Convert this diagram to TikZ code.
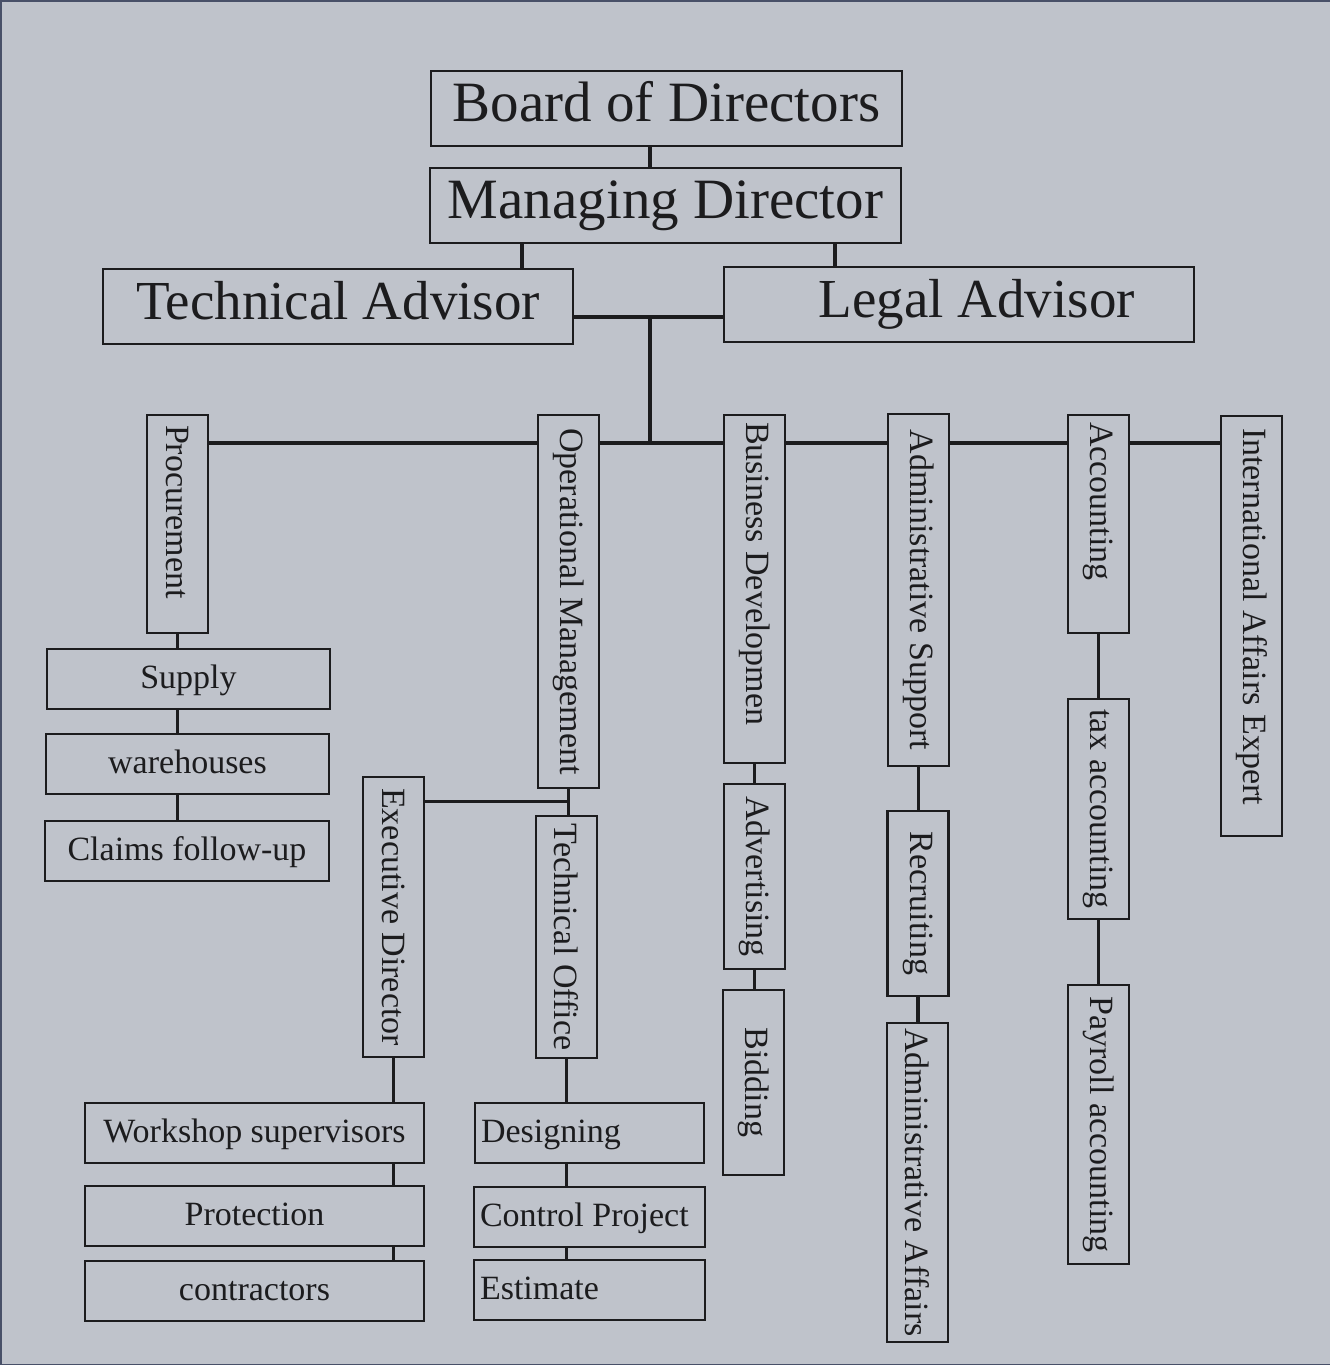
\documentclass[tikz,border=0pt]{standalone}
\usepackage{fontspec}
\setmainfont{Liberation Serif}
\definecolor{bgcol}{RGB}{191,195,203}
\definecolor{framecol}{RGB}{72,80,104}
\definecolor{inkcol}{RGB}{28,28,30}

\tikzset{
  box/.style={draw=inkcol, line width=2.2pt, fill=bgcol, text=inkcol, inner sep=0pt},
  bigbox/.style={box, minimum width=471pt, minimum height=75pt, text height=38pt, text depth=12pt,
    font=\fontsize{57}{60}\selectfont},
  smallbox/.style={box, minimum height=60pt, text height=24pt, text depth=6pt, font=\fontsize{34}{36}\selectfont},
  vbox/.style={box, rotate=-90, minimum height=61pt, inner xsep=3pt, font=\fontsize{34}{36}\selectfont},
  link/.style={draw=inkcol, line width=3.2pt},
}

\begin{document}
\begin{tikzpicture}[x=1pt, y=-1pt]
  \useasboundingbox (0,0) rectangle (1330,1365);
  \fill[bgcol] (0,0) rectangle (1330,1365);
  \draw[framecol, line width=3pt] (1330,1365) -- (0,1365) -- (0,0) -- (1330,0);

  % top of the chart
  \node[bigbox] (bod) at (666.5,108.5) {Board of Directors};
  \node[bigbox] (md) at (665.5,205.5) {Managing Director};
  \node[bigbox, minimum width=470pt, font=\fontsize{55}{58}\selectfont] (ta) at (338,306.5) {Technical Advisor};
  \node[bigbox, minimum width=470pt, inner xsep=59pt, text width=352pt, align=flush right,
    font=\fontsize{55}{58}\selectfont] (la) at (959,304.5) {Legal Advisor};

  \coordinate (spine) at (650,317);
  \coordinate (bus) at (650,443);
  \coordinate (tajoin) at (522,0);
  \coordinate (lajoin) at (835,0);

  % departments (rotated: west = top, east = bottom, south = left, north = right)
  \node[vbox, minimum width=218pt, inner xsep=10pt, text width=198pt, align=flush left] (proc) at (177.5,524) {Procurement};
  \node[vbox, minimum width=373pt] (om) at (568.5,601.5) {Operational Management};
  \node[vbox, minimum width=348pt, inner xsep=7pt, text width=334pt, align=flush left] (bd) at (754.5,589) {Business Developmen};
  \node[vbox, minimum width=352pt] (as) at (918.5,590) {Administrative Support};
  \node[vbox, minimum width=218pt, inner xsep=7pt, text width=204pt, align=flush left] (acc) at (1098.5,524) {Accounting};
  \node[vbox, minimum width=420pt, inner xsep=12pt, text width=396pt, align=flush left] (iae) at (1251.5,626) {International Affairs Expert};

  % second level
  \node[vbox, minimum width=280pt] (ed) at (393.5,917) {Executive Director};
  \node[vbox, minimum width=242pt] (to) at (566.5,937) {Technical Office};
  \node[vbox, minimum width=185pt] (adv) at (754.5,876.5) {Advertising};
  \node[vbox, minimum width=185pt] (bid) at (753.5,1082.5) {Bidding};
  \node[vbox, minimum width=185pt] (rec) at (918,903.5) {Recruiting};
  \node[vbox, minimum width=319pt] (aa) at (917.5,1182.5) {Administrative Affairs};
  \node[vbox, minimum width=220pt] (tax) at (1098.5,809) {tax accounting};
  \node[vbox, minimum width=279pt] (pay) at (1098.5,1124.5) {Payroll accounting};

  % horizontal units
  \node[smallbox, minimum width=283pt] (sup) at (188.5,679) {Supply};
  \node[smallbox, minimum width=283pt] (wh) at (187.5,764) {warehouses};
  \node[smallbox, minimum width=284pt] (cf) at (187,851) {Claims follow-up};
  \node[smallbox, minimum width=339pt] (ws) at (254.5,1133) {Workshop supervisors};
  \node[smallbox, minimum width=339pt] (prot) at (254.5,1216) {Protection};
  \node[smallbox, minimum width=339pt] (con) at (254.5,1291) {contractors};
  \node[smallbox, inner xsep=6pt, text width=217pt, align=flush left] (des) at (589.5,1133) {Designing};
  \node[smallbox, inner xsep=6pt, text width=219pt, align=flush left] (cp) at (589.5,1217) {Control Project};
  \node[smallbox, inner xsep=6pt, text width=219pt, align=flush left] (est) at (589.5,1290) {Estimate};

  % connectors
  \draw[link] (bod.south -| spine) -- (md.north -| spine);
  \draw[link] (md.south -| tajoin) -- (ta.north -| tajoin);
  \draw[link] (md.south -| lajoin) -- (la.north -| lajoin);
  \draw[link] (ta.east |- spine) -- (la.west |- spine);
  \draw[link] (spine) -- (bus);

  \foreach \a/\b in {proc/om, om/bd, bd/as, as/acc, acc/iae}
    \draw[link] (\a.north |- bus) -- (\b.south |- bus);

  \foreach \a/\b in {om/to, bd/adv, adv/bid, as/rec, rec/aa, acc/tax, tax/pay}
    \draw[link] (\a.east) -- (\a.east |- \b.west);

  \coordinate (opj) at ([yshift=-12pt]om.east);
  \draw[link] (ed.north |- opj) -- (opj);

  \draw[link] (proc.east) -- (proc.east |- sup.north);
  \draw[link] (ed.east) -- (ed.east |- ws.north);
  \draw[link] (to.east) -- (to.east |- des.north);
  \foreach \a/\b/\c in {sup/wh/proc, wh/cf/proc, ws/prot/ed, prot/con/ed, des/cp/to, cp/est/to}
    \draw[link] (\a.south -| \c.east) -- (\b.north -| \c.east);
\end{tikzpicture}
\end{document}
